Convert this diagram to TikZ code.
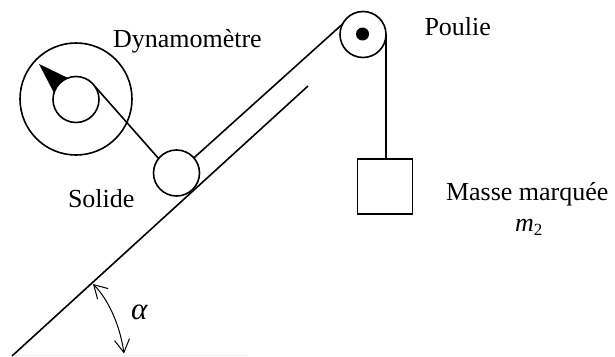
\documentclass[tikz,border=0pt]{standalone}
\usepackage{fontspec}
\setmainfont{Liberation Serif}
\usetikzlibrary{arrows.meta}
\tikzset{
  ink/.style={line width=1.6pt,black},
  disc/.style={ink,draw,circle,inner sep=0pt,outer sep=0pt,fill=white},
  lbl/.style={anchor=base west,inner sep=0pt,outer sep=0pt,font=\fontsize{26}{30}\selectfont},
  anglearrow/.style={line width=1pt,{Straight Barb[length=13pt,width=15pt,line width=1pt]}-{Straight Barb[length=13pt,width=15pt,line width=1pt]}}
}
\begin{document}
\begin{tikzpicture}[x=1pt,y=-1pt]
\useasboundingbox (0,0) rectangle (615,356);
% faint base line
\coordinate (baseA) at (15,355);
\coordinate (baseB) at (248,355);
\draw[line width=1pt,black!7] (baseA) -- (baseB);
% incline
\coordinate (inclA) at (12,356);
\coordinate (inclB) at (308,86);
\draw[ink] (inclA) -- (inclB);
% parts
\node[disc,minimum size=112pt] (dyno) at (76,99) {};
\node[disc,minimum size=46pt] (solide) at (176.5,173) {};
\node[disc,minimum size=46pt] (poulie) at (363,34.5) {};
\node[circle,fill=black,inner sep=0pt,minimum size=13pt] (axe) at (362.5,34) {};
\node[ink,draw,rectangle,inner sep=0pt,outer sep=0pt,minimum size=55pt] (masse) at (384.8,186.7) {};
% needle
\coordinate (tipN) at (39,64);
\coordinate (baseN1) at (68,78);
\coordinate (baseN2) at (54,93);
\fill[black] (tipN) -- (baseN1) -- (baseN2) -- cycle;
\node[disc,minimum size=46pt] (cadran) at (76,99.5) {};
% connectors
\draw[ink] (cadran.35) -- (solide.141);
\draw[ink] (solide.41) -- (poulie.153);
\draw[ink] (poulie.east) -- (poulie.east |- masse.north);
% angle
\coordinate (angA) at (93,284);
\coordinate (angB) at (124,353.5);
\draw[anglearrow] (angA) .. controls (108,299) and (120,325) .. (angB);
% labels
\node[lbl] (tDyn) at (113,47) {Dynamomètre};
\node[lbl] (tPou) at (424.5,35) {Poulie};
\node[lbl] (tSol) at (68,207) {Solide};
\node[lbl] (tMas) at (446,200) {Masse marquée};
\node[lbl] (tM2) at (515,231) {\textit{m}\raisebox{-4pt}{\fontsize{17}{20}\selectfont 2}};
\node[lbl,font=\fontsize{31}{34}\selectfont] (tAl) at (131,319.5) {\textit{α}};
\end{tikzpicture}
\end{document}
